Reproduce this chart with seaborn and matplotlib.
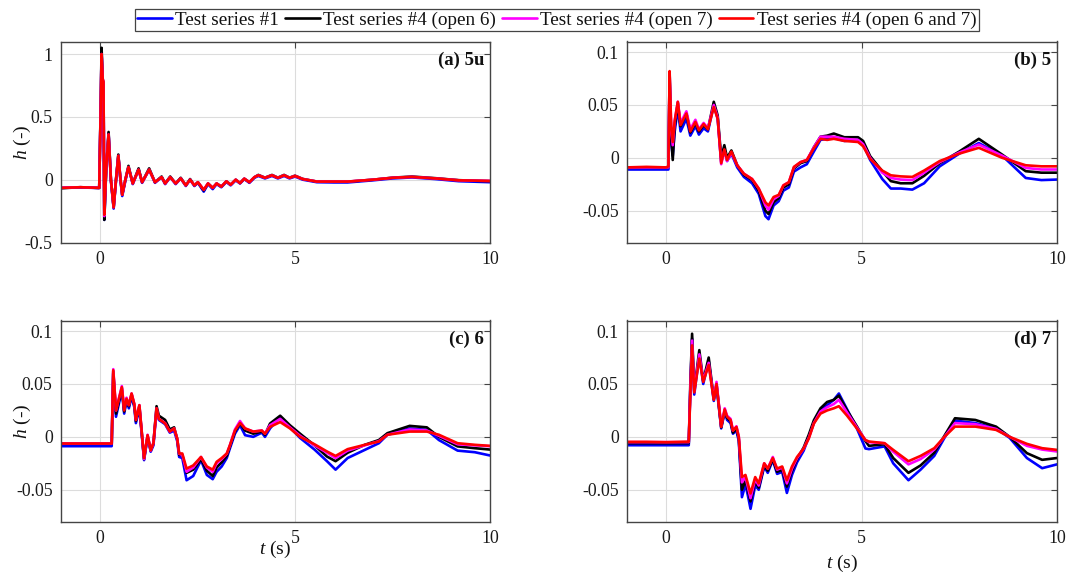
import matplotlib
matplotlib.use("Agg")
import matplotlib.pyplot as plt
import seaborn as sns
import pandas as pd
from matplotlib.lines import Line2D

# ---------------- data ----------------
series_names = ["Test series #1", "Test series #4 (open 6)",
                "Test series #4 (open 7)", "Test series #4 (open 6 and 7)"]
series_colors = ["#0000ff", "#000000", "#ff00ff", "#ff0000"]

panel_titles = ["(a) 5u", "(b) 5", "(c) 6", "(d) 7"]
x_ticks = [0, 5, 10]
y_ticks_a = [-0.5, 0, 0.5, 1]
y_ticks_bcd = [-0.05, 0, 0.05, 0.1]
y_tick_labels_a = ["-0.5", "0", "0.5", "1"]
y_tick_labels_bcd = ["-0.05", "0", "0.05", "0.1"]

# panel (a) 5u
t_a = [-1.0, -0.5, -0.02, 0.02, 0.04, 0.07, 0.09, 0.11, 0.16, 0.22, 0.28, 0.35, 0.41, 0.47, 0.52,
       0.57, 0.65, 0.73, 0.84, 0.99, 1.08, 1.26, 1.41, 1.58, 1.67, 1.80, 1.94, 2.07, 2.20, 2.31,
       2.42, 2.51, 2.66, 2.77, 2.89, 2.99, 3.11, 3.24, 3.35, 3.48, 3.59, 3.70, 3.83, 3.96, 4.06,
       4.23, 4.41, 4.56, 4.72, 4.86, 5.0, 5.2, 5.56, 6.0, 6.35, 7.0, 7.5, 8.0, 8.6, 9.2, 10.0]
a_s1 = [-0.065, -0.062, -0.066, 0.6, 1.02, 0.78, 0.75, -0.32, 0.08, 0.37, -0.01, -0.23, -0.01, 0.19,
        0.01, -0.13, -0.01, 0.10, -0.035, 0.08, -0.025, 0.08, -0.025, 0.02, -0.035, 0.02, -0.035,
        0.01, -0.05, 0.0, -0.05, -0.025, -0.095, -0.035, -0.075, -0.035, -0.06, -0.018, -0.045,
        -0.005, -0.03, 0.005, -0.025, 0.015, 0.03, 0.01, 0.03, 0.01, 0.03, 0.01, 0.025, 0.0,
        -0.02, -0.022, -0.022, -0.005, 0.01, 0.018, 0.005, -0.012, -0.02]
a_s2 = [-0.068, -0.06, -0.066, 0.62, 1.05, 0.8, 0.76, -0.32, 0.09, 0.38, 0.0, -0.22, 0.0, 0.2,
        0.02, -0.12, 0.0, 0.11, -0.03, 0.09, -0.02, 0.09, -0.02, 0.025, -0.03, 0.025, -0.03,
        0.015, -0.045, 0.005, -0.045, -0.02, -0.085, -0.03, -0.065, -0.03, -0.055, -0.013, -0.04,
        0.0, -0.027, 0.008, -0.02, 0.02, 0.038, 0.016, 0.038, 0.016, 0.038, 0.016, 0.032, 0.006,
        -0.015, -0.016, -0.016, 0.0, 0.016, 0.025, 0.012, -0.004, -0.012]
a_s3 = [-0.064, -0.06, -0.065, 0.6, 1.0, 0.8, 0.78, -0.29, 0.1, 0.36, 0.0, -0.22, 0.0, 0.19,
        0.02, -0.12, 0.0, 0.10, -0.03, 0.08, -0.02, 0.08, -0.02, 0.02, -0.03, 0.02, -0.03,
        0.01, -0.045, 0.0, -0.045, -0.02, -0.08, -0.03, -0.065, -0.03, -0.055, -0.013, -0.04,
        0.0, -0.027, 0.008, -0.02, 0.02, 0.035, 0.015, 0.035, 0.015, 0.035, 0.015, 0.03, 0.005,
        -0.015, -0.015, -0.015, 0.0, 0.015, 0.022, 0.01, -0.005, -0.01]
a_s4 = [-0.065, -0.06, -0.065, 0.6, 1.0, 0.8, 0.78, -0.28, 0.1, 0.36, 0.0, -0.22, 0.0, 0.19,
        0.02, -0.12, 0.0, 0.10, -0.03, 0.08, -0.02, 0.08, -0.02, 0.02, -0.03, 0.02, -0.03,
        0.01, -0.045, 0.0, -0.045, -0.02, -0.08, -0.03, -0.065, -0.03, -0.055, -0.013, -0.04,
        0.0, -0.027, 0.008, -0.02, 0.02, 0.035, 0.015, 0.035, 0.015, 0.035, 0.015, 0.03, 0.005,
        -0.015, -0.015, -0.015, 0.0, 0.015, 0.022, 0.01, -0.005, -0.01]

# panel (b) 5
t_b = [-1.0, -0.5, 0.0, 0.06, 0.09, 0.13, 0.17, 0.22, 0.30, 0.37, 0.52, 0.62, 0.75, 0.84, 0.96,
       1.07, 1.22, 1.32, 1.41, 1.49, 1.56, 1.67, 1.82, 1.99, 2.20, 2.37, 2.54, 2.62, 2.75, 2.88,
       3.00, 3.14, 3.27, 3.44, 3.60, 3.78, 3.95, 4.12, 4.29, 4.56, 4.91, 5.04, 5.22, 5.53, 5.75,
       6.0, 6.3, 6.6, 7.0, 7.5, 8.0, 8.6, 9.2, 9.6, 10.0]
b_s1 = [-0.011, -0.011, -0.011, -0.011, 0.075, 0.015, 0.002, 0.025, 0.047, 0.025, 0.037, 0.021,
        0.03, 0.022, 0.028, 0.025, 0.05, 0.037, -0.004, 0.008, -0.003, 0.004, -0.009, -0.018,
        -0.024, -0.034, -0.055, -0.058, -0.045, -0.041, -0.031, -0.028, -0.013, -0.009, -0.006,
        0.006, 0.017, 0.018, 0.019, 0.016, 0.017, 0.013, -0.002, -0.02, -0.029, -0.029, -0.03,
        -0.024, -0.008, 0.004, 0.014, 0.002, -0.019, -0.021, -0.0205]
b_s2 = [-0.009, -0.009, -0.009, -0.009, 0.08, 0.02, -0.002, 0.03, 0.052, 0.03, 0.042, 0.024,
        0.033, 0.025, 0.031, 0.027, 0.053, 0.04, 0.0, 0.012, 0.0, 0.007, -0.007, -0.016, -0.021,
        -0.031, -0.05, -0.053, -0.042, -0.038, -0.028, -0.025, -0.01, -0.005, -0.003, 0.01, 0.02,
        0.021, 0.023, 0.0195, 0.0195, 0.016, 0.0016, -0.0126, -0.022, -0.024, -0.024, -0.017,
        -0.005, 0.006, 0.018, 0.003, -0.0126, -0.014, -0.014]
b_s3 = [-0.009, -0.009, -0.009, -0.009, 0.08, 0.028, 0.012, 0.035, 0.053, 0.033, 0.044, 0.027,
        0.036, 0.027, 0.033, 0.028, 0.05, 0.038, -0.006, 0.007, -0.003, 0.005, -0.007, -0.015,
        -0.02, -0.029, -0.045, -0.049, -0.039, -0.036, -0.026, -0.023, -0.009, -0.004, -0.002,
        0.01, 0.02, 0.02, 0.02, 0.018, 0.017, 0.013, 0.0, -0.014, -0.019, -0.0205, -0.021,
        -0.014, -0.004, 0.005, 0.0126, 0.002, -0.0095, -0.011, -0.011]
b_s4 = [-0.009, -0.0085, -0.009, -0.008, 0.082, 0.03, 0.015, 0.035, 0.053, 0.031, 0.042, 0.025,
        0.034, 0.026, 0.032, 0.027, 0.048, 0.037, -0.005, 0.008, -0.002, 0.006, -0.007, -0.015,
        -0.02, -0.029, -0.042, -0.045, -0.037, -0.035, -0.026, -0.023, -0.0085, -0.004, -0.002,
        0.009, 0.018, 0.017, 0.018, 0.016, 0.015, 0.011, -0.001, -0.012, -0.0165, -0.0175,
        -0.018, -0.012, -0.003, 0.004, 0.0095, 0.0, -0.007, -0.008, -0.008]

# panel (c) 6
t_c = [-1.0, -0.5, 0.0, 0.30, 0.34, 0.41, 0.56, 0.62, 0.68, 0.74, 0.81, 0.88, 0.92, 1.01, 1.13,
       1.22, 1.30, 1.37, 1.45, 1.51, 1.67, 1.79, 1.90, 1.98, 2.03, 2.11, 2.22, 2.39, 2.59, 2.74,
       2.89, 2.99, 3.12, 3.25, 3.33, 3.46, 3.59, 3.72, 3.93, 4.15, 4.23, 4.36, 4.62, 4.87, 5.13,
       5.5, 5.82, 6.04, 6.35, 6.79, 7.15, 7.37, 7.94, 8.38, 8.69, 9.17, 9.61, 10.0]
c_s1 = [-0.0088, -0.0088, -0.0088, -0.0088, 0.060, 0.019, 0.044, 0.022, 0.034, 0.027, 0.038,
        0.028, 0.013, 0.027, -0.022, 0.0, -0.014, -0.008, 0.025, 0.016, 0.012, 0.004, 0.006,
        -0.004, -0.019, -0.02, -0.041, -0.037, -0.022, -0.036, -0.040, -0.033, -0.028, -0.02,
        -0.011, 0.003, 0.011, 0.0016, 0.0, 0.004, 0.0, 0.008, 0.019, 0.009, -0.001, -0.012,
        -0.023, -0.031, -0.02, -0.0123, -0.006, 0.002, 0.008, 0.0066, -0.003, -0.013, -0.0145,
        -0.0176]
c_s2 = [-0.0065, -0.0065, -0.0065, -0.0065, 0.062, 0.022, 0.046, 0.024, 0.036, 0.029, 0.040,
        0.030, 0.015, 0.029, -0.021, 0.001, -0.013, -0.006, 0.029, 0.02, 0.016, 0.007, 0.009,
        -0.002, -0.017, -0.017, -0.034, -0.031, -0.021, -0.032, -0.037, -0.029, -0.024, -0.018,
        -0.009, 0.005, 0.013, 0.006, 0.003, 0.005, 0.002, 0.0126, 0.020, 0.011, 0.003, -0.008,
        -0.0186, -0.023, -0.015, -0.0075, -0.003, 0.0035, 0.0104, 0.009, 0.0, -0.009, -0.0107,
        -0.012]
c_s3 = [-0.0063, -0.0063, -0.0063, -0.0063, 0.064, 0.025, 0.048, 0.026, 0.037, 0.030, 0.041,
        0.031, 0.016, 0.030, -0.021, 0.002, -0.013, -0.006, 0.027, 0.017, 0.013, 0.005, 0.008,
        -0.002, -0.016, -0.017, -0.033, -0.029, -0.019, -0.029, -0.033, -0.025, -0.021, -0.016,
        -0.008, 0.007, 0.015, 0.008, 0.005, 0.006, 0.003, 0.011, 0.017, 0.009, 0.001, -0.008,
        -0.015, -0.02, -0.013, -0.008, -0.004, 0.002, 0.007, 0.006, 0.001, -0.007, -0.008,
        -0.0088]
c_s4 = [-0.0063, -0.0063, -0.0063, -0.0063, 0.063, 0.025, 0.047, 0.025, 0.036, 0.030, 0.041,
        0.031, 0.016, 0.030, -0.020, 0.0016, -0.0126, -0.006, 0.027, 0.017, 0.0126, 0.005, 0.008,
        -0.0016, -0.0157, -0.0157, -0.030, -0.027, -0.019, -0.028, -0.031, -0.0236, -0.020,
        -0.0157, -0.008, 0.006, 0.0132, 0.008, 0.005, 0.006, 0.003, 0.0094, 0.014, 0.008, 0.0,
        -0.007, -0.0138, -0.018, -0.0116, -0.0075, -0.0044, 0.002, 0.005, 0.005, 0.002, -0.006,
        -0.0075, -0.0085]

# panel (d) 7
t_d = [-1.0, -0.5, 0.0, 0.58, 0.62, 0.665, 0.72, 0.85, 0.95, 1.09, 1.22, 1.29, 1.41, 1.50, 1.56,
       1.65, 1.71, 1.80, 1.86, 1.94, 2.03, 2.09, 2.16, 2.28, 2.37, 2.51, 2.60, 2.73, 2.84, 2.97,
       3.09, 3.22, 3.35, 3.52, 3.65, 3.78, 3.95, 4.12, 4.29, 4.42, 4.63, 4.88, 5.10, 5.19, 5.59,
       5.81, 6.20, 6.51, 6.86, 7.12, 7.39, 7.91, 8.44, 8.79, 9.23, 9.62, 10.0]
d_s1 = [-0.0079, -0.0079, -0.0079, -0.0079, 0.045, 0.093, 0.040, 0.078, 0.050, 0.072, 0.034,
        0.048, 0.008, 0.024, 0.016, 0.013, 0.003, 0.006, -0.004, -0.057, -0.045, -0.055, -0.068,
        -0.046, -0.050, -0.028, -0.034, -0.022, -0.035, -0.033, -0.053, -0.036, -0.024, -0.013,
        0.0, 0.013, 0.025, 0.030, 0.035, 0.041, 0.026, 0.008, -0.011, -0.0116, -0.009, -0.025,
        -0.041, -0.031, -0.018, -0.001, 0.0154, 0.013, 0.008, -0.001, -0.020, -0.0296, -0.026]
d_s2 = [-0.006, -0.006, -0.006, -0.006, 0.05, 0.0975, 0.044, 0.082, 0.053, 0.075, 0.036, 0.050,
        0.009, 0.025, 0.018, 0.015, 0.004, 0.008, -0.002, -0.050, -0.041, -0.05, -0.061, -0.042,
        -0.048, -0.027, -0.032, -0.021, -0.033, -0.031, -0.047, -0.032, -0.021, -0.01, 0.002,
        0.0157, 0.027, 0.033, 0.035, 0.039, 0.025, 0.01, -0.004, -0.0085, -0.007, -0.020, -0.034,
        -0.027, -0.015, 0.001, 0.0176, 0.016, 0.0097, 0.0, -0.0154, -0.0217, -0.020]
d_s3 = [-0.005, -0.005, -0.005, -0.005, 0.045, 0.091, 0.043, 0.078, 0.053, 0.070, 0.036, 0.052,
        0.010, 0.027, 0.020, 0.017, 0.006, 0.010, 0.0, -0.043, -0.038, -0.047, -0.058, -0.040,
        -0.046, -0.025, -0.030, -0.019, -0.031, -0.029, -0.044, -0.030, -0.020, -0.011, -0.001,
        0.013, 0.024, 0.028, 0.031, 0.035, 0.023, 0.009, -0.003, -0.005, -0.006, -0.014, -0.026,
        -0.021, -0.012, 0.0, 0.013, 0.012, 0.0075, 0.0, -0.0085, -0.012, -0.0138]
d_s4 = [-0.0047, -0.0047, -0.005, -0.0045, 0.04, 0.0865, 0.042, 0.074, 0.052, 0.068, 0.035,
        0.050, 0.0094, 0.026, 0.019, 0.016, 0.006, 0.0094, 0.0, -0.038, -0.036, -0.044, -0.0535,
        -0.038, -0.044, -0.025, -0.030, -0.020, -0.030, -0.028, -0.041, -0.028, -0.019, -0.011,
        -0.0016, 0.0126, 0.022, 0.025, 0.027, 0.029, 0.020, 0.008, -0.003, -0.0044, -0.006,
        -0.0123, -0.023, -0.018, -0.0107, 0.0, 0.0097, 0.0097, 0.0066, 0.0, -0.0066, -0.0107,
        -0.0123]

panels = [
    (t_a, [a_s1, a_s2, a_s3, a_s4]),
    (t_b, [b_s1, b_s2, b_s3, b_s4]),
    (t_c, [c_s1, c_s2, c_s3, c_s4]),
    (t_d, [d_s1, d_s2, d_s3, d_s4]),
]

# ---------------- styling ----------------
sns.set_theme(style="white")
plt.rcParams["font.family"] = ["Liberation Serif", "DejaVu Serif"]
plt.rcParams["mathtext.fontset"] = "custom"
plt.rcParams["mathtext.it"] = "Liberation Serif:italic"
plt.rcParams["mathtext.rm"] = "Liberation Serif"
plt.rcParams["axes.unicode_minus"] = False

W, H = 1077, 574
fig = plt.figure(figsize=(W / 100, H / 100), dpi=100)
fig.patch.set_facecolor("white")

boxes = [
    (61, 41.5, 429, 201),
    (627, 41.5, 430, 201),
    (61, 320.5, 429, 201),
    (627, 320.5, 430, 201),
]

palette = dict(zip(series_names, series_colors))

for i, ((tt, vals), (bx, by, bw, bh)) in enumerate(zip(panels, boxes)):
    ax = fig.add_axes([bx / W, 1 - (by + bh) / H, bw / W, bh / H])
    rows = []
    for name, v in zip(series_names, vals):
        for t, h in zip(tt, v):
            rows.append((name, t, h))
    df = pd.DataFrame(rows, columns=["series", "t", "h"])
    sns.lineplot(data=df, x="t", y="h", hue="series", hue_order=series_names,
                 palette=palette, estimator=None, sort=False, linewidth=1.9,
                 legend=False, ax=ax)
    for ln in ax.get_lines():
        ln.set_solid_joinstyle("round")
    ax.set_xlim(-1, 10)
    if i == 0:
        ax.set_ylim(-0.5, 1.1)
        ax.set_yticks(y_ticks_a)
        ax.set_yticklabels(y_tick_labels_a)
    else:
        ax.set_ylim(-0.08, 0.11)
        ax.set_yticks(y_ticks_bcd)
        ax.set_yticklabels(y_tick_labels_bcd)
    ax.set_xticks(x_ticks)
    ax.set_xticklabels([str(x) for x in x_ticks])
    ax.grid(True, color="#dcdcdc", linewidth=0.8)
    ax.set_axisbelow(True)
    for sp in ax.spines.values():
        sp.set_color("#444444")
        sp.set_linewidth(1.0)
    ax.tick_params(axis="both", which="major", direction="in", length=4, width=0.8,
                   colors="#444444", labelcolor="#1a1a1a", labelsize=12.8,
                   top=True, right=True, pad=6)
    ax.text(0.986, 0.905, panel_titles[i], transform=ax.transAxes, ha="right", va="center",
            fontsize=13.5, fontweight="bold", color="#111111")
    if i in (0, 2):
        ax.set_ylabel(r"$h$ (-)", fontsize=14, color="#111111")
        ax.yaxis.set_label_coords(-28 / bw, 0.5)
    else:
        ax.set_ylabel("")
    if i == 2:
        ax.set_xlabel(r"$t$ (s)", fontsize=14, color="#111111")
        ax.xaxis.set_label_coords(0.5, -0.085)
    elif i == 3:
        ax.set_xlabel(r"$t$ (s)", fontsize=14, color="#111111")
        ax.xaxis.set_label_coords(0.5, -0.155)
    else:
        ax.set_xlabel("")

handles = [Line2D([0], [0], color=c, linewidth=1.9) for c in series_colors]
leg = fig.legend(handles, series_names, loc="center", bbox_to_anchor=(557 / W, 1 - 20 / H),
                 ncol=4, fontsize=13.8, frameon=True, fancybox=False, framealpha=1,
                 edgecolor="#444444", handlelength=1.8, handletextpad=0.2,
                 columnspacing=0.3, borderpad=0.12, borderaxespad=0)
leg.get_frame().set_linewidth(0.9)
for txt in leg.get_texts():
    txt.set_color("#111111")

fig.savefig("out.png", dpi=100, facecolor="white")
